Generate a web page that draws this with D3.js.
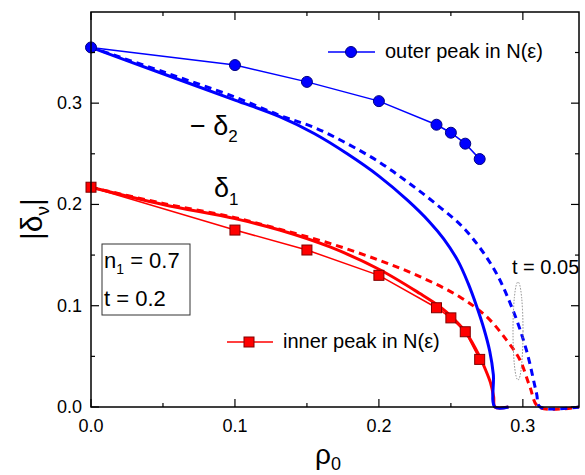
<!DOCTYPE html>
<html>
<head>
<meta charset="utf-8">
<script src="https://cdn.jsdelivr.net/npm/d3@7"></script>
<style>
  body { margin: 0; background: #fff; }
  text { font-family: "Liberation Sans", Arial, sans-serif; fill: #000; }
</style>
</head>
<body>
<div id="graphic"></div>
<script>
// data
var peakRho = [0, 0.1, 0.15, 0.2, 0.24, 0.25, 0.26, 0.27];
var outerPeak = [0.355, 0.3376, 0.321, 0.302, 0.2787, 0.2708, 0.260, 0.2448];
var innerPeak = [0.217, 0.1747, 0.155, 0.130, 0.098, 0.088, 0.0743, 0.047];

var delta2Rho = [0, 0.05, 0.1, 0.131, 0.155, 0.178, 0.2, 0.22, 0.235, 0.245, 0.255, 0.262, 0.268, 0.273, 0.277, 0.2795, 0.2806, 0.29];
var delta2 = [0.355, 0.329, 0.303, 0.2866, 0.270, 0.250, 0.228, 0.204, 0.183, 0.166, 0.144, 0.122, 0.099, 0.077, 0.055, 0.032, 0, 0];

var delta2tRho = [0, 0.05, 0.1, 0.131, 0.155, 0.178, 0.2, 0.22, 0.24, 0.26, 0.28, 0.293, 0.3025, 0.3095, 0.312, 0.339];
var delta2t = [0.355, 0.331, 0.306, 0.288, 0.276, 0.26, 0.242, 0.222, 0.2, 0.175, 0.136, 0.096, 0.056, 0.0135, 0, 0];

var delta1Rho = [0, 0.05, 0.1, 0.131, 0.166, 0.2, 0.2285, 0.2424, 0.2516, 0.2609, 0.27, 0.274, 0.2775, 0.2797, 0.2806, 0.29];
var delta1 = [0.217, 0.2, 0.186, 0.1747, 0.158, 0.136, 0.112, 0.099, 0.0875, 0.0727, 0.0497, 0.037, 0.024, 0.01, 0, 0];

var delta1tRho = [0, 0.05, 0.1, 0.131, 0.166, 0.2, 0.2285, 0.256, 0.2748, 0.2887, 0.298, 0.3049, 0.311, 0.339];
var delta1t = [0.217, 0.201, 0.187, 0.1755, 0.1615, 0.145, 0.1287, 0.1089, 0.0892, 0.0661, 0.0464, 0.02, 0, 0];

var xTicks = [0, 0.1, 0.2, 0.3];
var yTicks = [0, 0.1, 0.2, 0.3];

var renderGraphic = function() {
    var blue = '#0000ff', red = '#ff0000';

    var width = 585, height = 475;
    var margins = { left: 91, right: 579, top: 12, bottom: 407 };

    var x = d3.scaleLinear().domain([0, 0.339]).range([margins.left, margins.right]);
    var y = d3.scaleLinear().domain([0, 0.39]).range([margins.bottom, margins.top]);

    var svg = d3.select('#graphic').append('svg')
        .attr('width', width)
        .attr('height', height);

    function pairs(xs, ys) {
        return xs.map(function(d, i) { return [d, ys[i]]; });
    }

    var line = d3.line()
        .x(function(d) { return x(d[0]); })
        .y(function(d) { return y(d[1]); })
        .curve(d3.curveCatmullRom.alpha(0.5));

    var straight = d3.line()
        .x(function(d) { return x(d[0]); })
        .y(function(d) { return y(d[1]); });

    // curves
    svg.append('path').attr('d', line(pairs(delta1tRho, delta1t)))
        .attr('fill', 'none').attr('stroke', red).attr('stroke-width', 3)
        .attr('stroke-dasharray', '7,5');
    svg.append('path').attr('d', line(pairs(delta2tRho, delta2t)))
        .attr('fill', 'none').attr('stroke', blue).attr('stroke-width', 3)
        .attr('stroke-dasharray', '7,5');
    svg.append('path').attr('d', line(pairs(delta1Rho, delta1)))
        .attr('fill', 'none').attr('stroke', red).attr('stroke-width', 3);
    svg.append('path').attr('d', line(pairs(delta2Rho, delta2)))
        .attr('fill', 'none').attr('stroke', blue).attr('stroke-width', 3);

    // peak markers
    svg.append('path').attr('d', straight(pairs(peakRho, outerPeak)))
        .attr('fill', 'none').attr('stroke', blue).attr('stroke-width', 1.5);
    svg.append('path').attr('d', straight(pairs(peakRho, innerPeak)))
        .attr('fill', 'none').attr('stroke', red).attr('stroke-width', 1.5);

    svg.selectAll('circle.outer')
        .data(pairs(peakRho, outerPeak))
        .enter().append('circle')
        .attr('class', 'outer')
        .attr('cx', function(d) { return x(d[0]); })
        .attr('cy', function(d) { return y(d[1]); })
        .attr('r', 5.5)
        .attr('fill', blue).attr('stroke', '#000080').attr('stroke-width', 1);

    svg.selectAll('rect.inner')
        .data(pairs(peakRho, innerPeak))
        .enter().append('rect')
        .attr('class', 'inner')
        .attr('x', function(d) { return x(d[0]) - 5; })
        .attr('y', function(d) { return y(d[1]) - 5; })
        .attr('width', 10).attr('height', 10)
        .attr('fill', red).attr('stroke', '#800000').attr('stroke-width', 1);

    // frame and ticks
    svg.append('rect')
        .attr('x', margins.left).attr('y', margins.top)
        .attr('width', margins.right - margins.left).attr('height', margins.bottom - margins.top)
        .attr('fill', 'none').attr('stroke', '#000').attr('stroke-width', 1.5);

    var xMinor = d3.range(0.05, 0.339, 0.1);
    var yMinor = d3.range(0.05, 0.39, 0.1);
    var ticks = svg.append('g').attr('stroke', '#000').attr('stroke-width', 1.2);
    xTicks.concat(xMinor).forEach(function(t, i) {
        var len = i < xTicks.length ? 8 : 4;
        ticks.append('line').attr('x1', x(t)).attr('x2', x(t))
            .attr('y1', margins.bottom).attr('y2', margins.bottom - len);
        ticks.append('line').attr('x1', x(t)).attr('x2', x(t))
            .attr('y1', margins.top).attr('y2', margins.top + len);
    });
    yTicks.concat(yMinor).forEach(function(t, i) {
        var len = i < yTicks.length ? 8 : 4;
        ticks.append('line').attr('y1', y(t)).attr('y2', y(t))
            .attr('x1', margins.left).attr('x2', margins.left + len);
        ticks.append('line').attr('y1', y(t)).attr('y2', y(t))
            .attr('x1', margins.right).attr('x2', margins.right - len);
    });

    svg.selectAll('text.xt')
        .data(xTicks).enter().append('text')
        .attr('class', 'xt')
        .attr('x', function(d) { return x(d); })
        .attr('y', 432)
        .attr('text-anchor', 'middle')
        .style('font-size', '18px')
        .text(function(d) { return d3.format('.1f')(d); });

    svg.selectAll('text.yt')
        .data(yTicks).enter().append('text')
        .attr('class', 'yt')
        .attr('x', 82)
        .attr('y', function(d) { return y(d) + 6; })
        .attr('text-anchor', 'end')
        .style('font-size', '18px')
        .text(function(d) { return d3.format('.1f')(d); });

    // axis titles
    var xt = svg.append('text').attr('x', 315).attr('y', 464).style('font-size', '28px');
    xt.append('tspan').text('ρ');
    xt.append('tspan').attr('dy', 6).style('font-size', '18px').text('0');

    var yt = svg.append('text')
        .attr('transform', 'translate(42,240) rotate(-90)')
        .style('font-size', '30px');
    yt.append('tspan').text('|δ');
    yt.append('tspan').attr('dy', 7).style('font-size', '19px').text('ν');
    yt.append('tspan').attr('dy', -7).text('|');

    // curve labels
    var d2 = svg.append('text').attr('x', 190).attr('y', 135).style('font-size', '27px');
    d2.append('tspan').text('− δ');
    d2.append('tspan').attr('dy', 7).style('font-size', '17px').text('2');

    var d1 = svg.append('text').attr('x', 214).attr('y', 197).style('font-size', '27px');
    d1.append('tspan').text('δ');
    d1.append('tspan').attr('dy', 8).style('font-size', '17px').text('1');

    // parameter box
    svg.append('rect')
        .attr('x', 102).attr('y', 244).attr('width', 88).attr('height', 71)
        .attr('fill', '#fff').attr('stroke', '#333').attr('stroke-width', 1);
    var n1 = svg.append('text').attr('x', 104).attr('y', 268).style('font-size', '22px');
    n1.append('tspan').text('n');
    n1.append('tspan').attr('dy', 6).style('font-size', '14px').text('1');
    n1.append('tspan').attr('dy', -6).text(' = 0.7');
    svg.append('text').attr('x', 104).attr('y', 306).style('font-size', '22px').text('t = 0.2');

    // t = 0.05 annotation
    svg.append('ellipse')
        .attr('cx', 518).attr('cy', 331).attr('rx', 5).attr('ry', 49)
        .attr('fill', 'none').attr('stroke', '#888').attr('stroke-width', 1)
        .attr('stroke-dasharray', '1.5,1.5');
    svg.append('text').attr('x', 512).attr('y', 274).style('font-size', '20px').text('t = 0.05');

    // legends
    var lg1 = svg.append('g');
    lg1.append('line').attr('x1', 328).attr('x2', 375).attr('y1', 52).attr('y2', 52)
        .attr('stroke', blue).attr('stroke-width', 1.5);
    lg1.append('circle').attr('cx', 351).attr('cy', 52).attr('r', 5.5)
        .attr('fill', blue).attr('stroke', '#000080');
    lg1.append('text').attr('x', 385).attr('y', 58).style('font-size', '20px').text('outer peak in N(ε)');

    var lg2 = svg.append('g');
    lg2.append('line').attr('x1', 227).attr('x2', 273).attr('y1', 342).attr('y2', 342)
        .attr('stroke', red).attr('stroke-width', 1.5);
    lg2.append('rect').attr('x', 244).attr('y', 337).attr('width', 10).attr('height', 10)
        .attr('fill', red).attr('stroke', '#800000');
    lg2.append('text').attr('x', 283).attr('y', 348).style('font-size', '20px').text('inner peak in N(ε)');
};

renderGraphic();
</script>
</body>
</html>
